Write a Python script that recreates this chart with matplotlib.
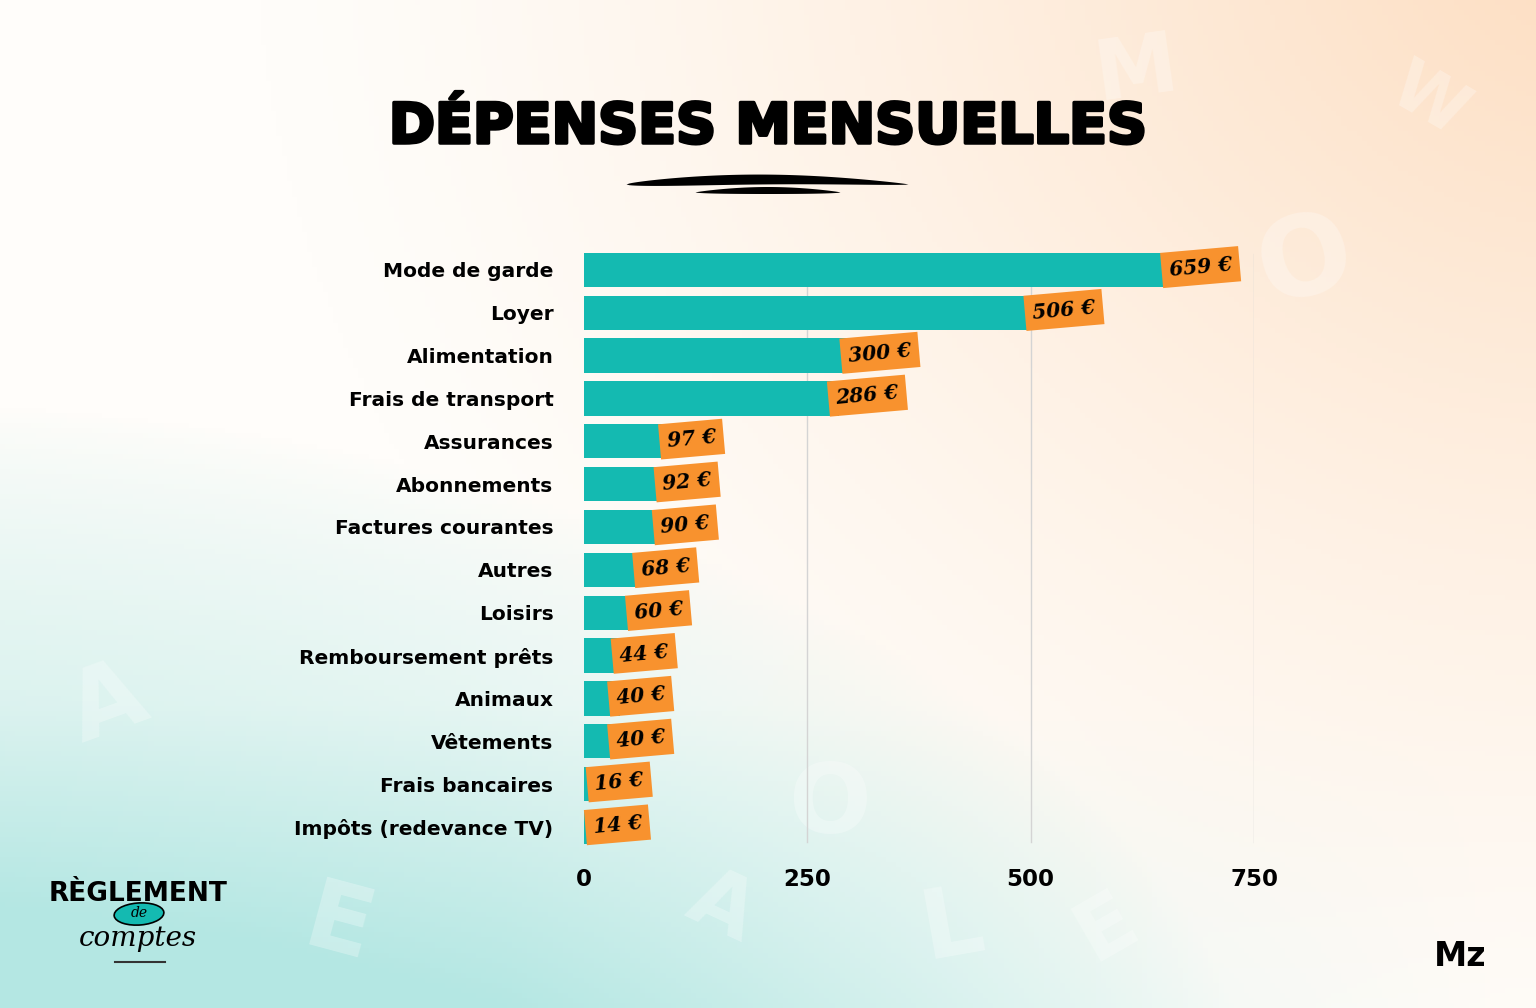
import numpy as np
import matplotlib.pyplot as plt
import matplotlib.patheffects as pe
from matplotlib.patches import Ellipse

categories = ["Mode de garde", "Loyer", "Alimentation", "Frais de transport",
              "Assurances", "Abonnements", "Factures courantes", "Autres",
              "Loisirs", "Remboursement prêts", "Animaux", "Vêtements",
              "Frais bancaires", "Impôts (redevance TV)"]
valeurs = [659, 506, 300, 286, 97, 92, 90, 68, 60, 44, 40, 40, 16, 14]
ticks = [0, 250, 500, 750]

TEAL = "#14BAB1"
ORANGE = "#F8922E"

fig = plt.figure(figsize=(15.36, 10.08), dpi=100)

# fond en dégradé (blanc, pêche en haut à droite, turquoise en bas à gauche)
bg = fig.add_axes([0, 0, 1, 1])
ny, nx = 200, 300
xx, yy = np.meshgrid(np.linspace(0, 1.52, nx), np.linspace(0, 1, ny))
peche = np.array([253, 220, 190]) / 255
turq = np.array([180, 231, 227]) / 255
blanc = np.array([255, 253, 250]) / 255
d_p = np.hypot(xx - 1.6, (yy - 1.1) * 1.1)
w_p = np.clip(1 - d_p / 1.35, 0, 1) ** 1.3
d_t = np.hypot((xx + 0.15) * 0.75, (yy + 0.15) * 1.4)
w_t = np.clip(1 - d_t / 1.05, 0, 1) ** 0.8
w_t = np.clip(w_t + np.clip(0.3 - yy, 0, 1) * 1.4 * np.clip(1.5 - xx, 0, 1), 0, 1)
tot = np.clip(w_p + w_t, 1, None)
w_p, w_t = w_p / tot, w_t / tot
img = blanc * (1 - w_p - w_t)[..., None] + peche * w_p[..., None] + turq * w_t[..., None]
img = np.clip(img, 0, 1)
bg.imshow(img, extent=[0, 1, 0, 1], origin="lower", aspect="auto")
bg.set_xlim(0, 1)
bg.set_ylim(0, 1)
bg.axis("off")

# lettres décoratives pâles
for ch, x, y, r, s in [("M", 0.74, 0.93, 8, 60), ("W", 0.93, 0.90, -30, 50), ("O", 0.85, 0.74, 15, 80),
                       ("A", 0.07, 0.30, 20, 70), ("E", 0.22, 0.08, -15, 70), ("L", 0.62, 0.08, 10, 70),
                       ("A", 0.47, 0.10, -25, 60), ("E", 0.72, 0.08, 30, 60), ("O", 0.54, 0.20, 0, 70)]:
    bg.text(x, y, ch, fontsize=s, fontweight="bold", color="white", alpha=0.28,
            rotation=r, ha="center", va="center")

# titre
fig.text(0.5, 0.873, "DÉPENSES MENSUELLES", ha="center", va="center",
         fontsize=40, fontweight="heavy", family="DejaVu Sans", color="black",
         path_effects=[pe.withStroke(linewidth=2.5, foreground="black")])
# coup de pinceau
t = np.linspace(0, 1, 100)
x1 = (626 + t * 282) / 1536
y1 = 1 - (184 - 5 * np.sin(np.pi * t)) / 1008
h1 = 5 * np.sin(np.pi * t ** 0.8) ** 0.7 / 1008
bg.fill_between(x1, y1 - h1, y1 + h1, color="black", lw=0)
x2 = (695 + t * 145) / 1536
y2 = 1 - (192 - 2 * np.sin(np.pi * t)) / 1008
h2 = 3.5 * np.sin(np.pi * t) ** 0.7 / 1008
bg.fill_between(x2, y2 - h2, y2 + h2, color="black", lw=0)

# graphique
ax = fig.add_axes([584 / 1536, 1 - 848.4 / 1008, 670 / 1536, 600 / 1008])
ax.patch.set_alpha(0)
y = np.arange(len(categories))
ax.barh(y, valeurs, height=0.8, color=TEAL, zorder=2)
ax.set_xlim(0, 750)
ax.set_ylim(len(categories) - 0.5, -0.5)
ax.set_xticks(ticks)
ax.set_xticklabels([str(v) for v in ticks], fontsize=16.5, fontweight="heavy")
ax.set_yticks(y)
ax.set_yticklabels(categories, fontsize=14.5, fontweight="heavy")
ax.tick_params(axis="both", length=0)
ax.tick_params(axis="y", pad=22)
ax.tick_params(axis="x", pad=14)
for v in ticks[1:]:
    ax.axvline(v, ymin=0.01, ymax=0.99, color="#D4D4D4", lw=1, zorder=1)
for s in ax.spines.values():
    s.set_visible(False)

for i, v in enumerate(valeurs):
    ax.annotate(f"{v} €", xy=(v, i), xytext=(-2.5, 0), textcoords="offset points",
                ha="left", va="center", rotation=5, rotation_mode="anchor",
                fontsize=14.5, fontweight="bold", fontstyle="italic", family="DejaVu Serif",
                color="black", zorder=5, annotation_clip=False,
                bbox=dict(boxstyle="square,pad=0.38", fc=ORANGE, ec="none"))

# logos
fig.text(138 / 1536, 1 - 894 / 1008, "RÈGLEMENT", ha="center", va="center",
         fontsize=19, fontweight="heavy", color="black")
bg.add_patch(Ellipse((139 / 1536, 1 - 914 / 1008), 50 / 1536, 22 / 1008,
                     angle=8, fc=TEAL, ec="black", lw=1.2))
fig.text(139 / 1536, 1 - 913 / 1008, "de", ha="center", va="center", fontsize=10,
         fontstyle="italic", family="DejaVu Serif", color="black")
fig.text(138 / 1536, 1 - 939 / 1008, "comptes", ha="center", va="center",
         fontsize=20, fontstyle="italic", family="DejaVu Serif", color="black")
bg.plot([115 / 1536, 165 / 1536], [1 - 962 / 1008] * 2, color="#333333", lw=1.5)
fig.text(1460 / 1536, 1 - 957 / 1008, "Mz", ha="center", va="center",
         fontsize=24, fontweight="heavy", color="black")

fig.savefig("out.png", dpi=100)
